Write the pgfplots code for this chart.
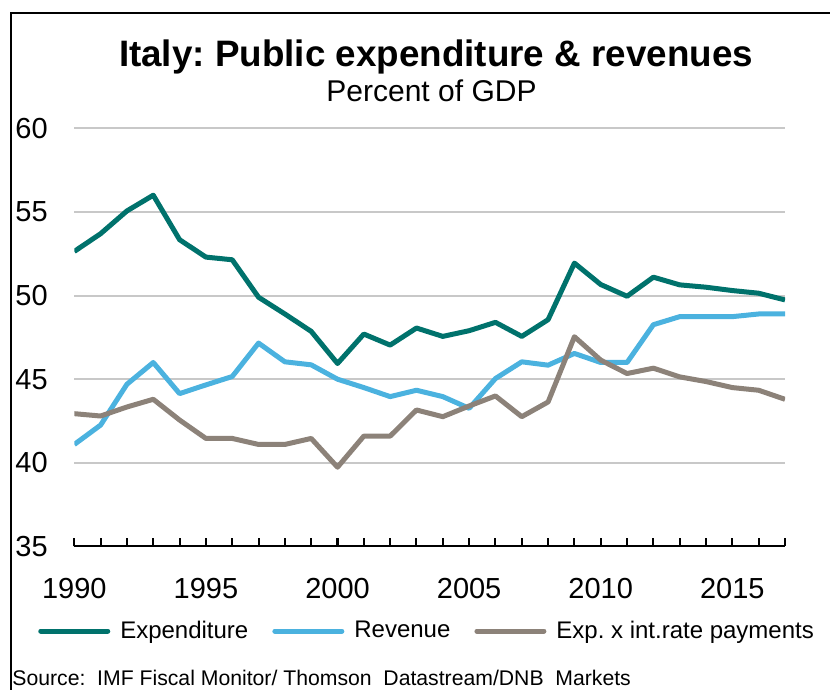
\documentclass[border=0pt]{standalone}
\usepackage{fontspec}
\setmainfont{Liberation Sans}
\usepackage{pgfplots}
\pgfplotsset{compat=1.18}
\definecolor{expcol}{HTML}{00726C}
\definecolor{revcol}{HTML}{4BB2DF}
\definecolor{intcol}{HTML}{8C8279}
\definecolor{gridcol}{HTML}{C8C8C8}
\frenchspacing

\begin{document}
\begin{tikzpicture}
\useasboundingbox (0,0) rectangle (415pt,345pt);
\begin{axis}[
  at={(37.15pt,71.75pt)}, anchor=south west,
  scale only axis, width=355.35pt, height=209.1pt,
  xmin=1990, xmax=2017, ymin=35, ymax=60,
  axis x line*=bottom, axis y line*=left,
  y axis line style={draw=none},
  x axis line style={-, line width=1pt, black},
  xtick={1990,1995,...,2015},
  minor xtick={1990,...,2017},
  ytick={35,40,...,60},
  tick align=inside,
  major tick length=4pt, minor tick length=4pt,
  xtick style={black, line width=1pt},
  minor tick style={black, line width=1pt},
  ytick style={draw=none},
  ymajorgrids, grid style={gridcol, line width=1pt},
  tick label style={font=\fontsize{14.5}{16}\selectfont,
    /pgf/number format/assume math mode=true,
    /pgf/number format/1000 sep={}},
  yticklabel style={anchor=west, inner sep=0pt, xshift=-29.65pt},
  xticklabel style={anchor=center, yshift=-21pt},
  legend columns=3,
  legend style={at={(-0.0507,-0.2021)}, anchor=west, draw=none, fill=none,
    inner sep=0pt, outer sep=0pt, font=\fontsize{12}{14}\selectfont,
    nodes={inner sep=0pt},
    /tikz/every odd column/.append style={column sep=5pt},
    /tikz/every even column/.append style={column sep=12pt}},
  legend image code/.code={\draw[#1, line cap=round] (1.25pt,0pt) -- (34.75pt,0pt);},
]
% Expenditure
\addplot[expcol, line width=2.5pt, line join=round] coordinates {
(1990,52.64) (1991,53.70) (1992,55.06) (1993,56.00) (1994,53.34) (1995,52.30)
(1996,52.14) (1997,49.90) (1998,48.90) (1999,47.86) (2000,45.94) (2001,47.70)
(2002,47.04) (2003,48.06) (2004,47.56) (2005,47.90) (2006,48.40) (2007,47.56)
(2008,48.56) (2009,51.94) (2010,50.66) (2011,49.96) (2012,51.10) (2013,50.64)
(2014,50.50) (2015,50.30) (2016,50.14) (2017,49.74)};
\addlegendentry{Expenditure}
% Revenue
\addplot[revcol, line width=2.5pt, line join=round] coordinates {
(1990,41.10) (1991,42.26) (1992,44.70) (1993,46.00) (1994,44.14) (1995,44.66)
(1996,45.16) (1997,47.16) (1998,46.04) (1999,45.86) (2000,45.00) (2001,44.50)
(2002,43.96) (2003,44.34) (2004,43.96) (2005,43.26) (2006,45.04) (2007,46.04)
(2008,45.84) (2009,46.54) (2010,46.00) (2011,46.00) (2012,48.26) (2013,48.74)
(2014,48.74) (2015,48.74) (2016,48.90) (2017,48.90)};
\addlegendentry{Revenue}
% Expenditure excluding interest payments
\addplot[intcol, line width=2.5pt, line join=round] coordinates {
(1990,42.94) (1991,42.80) (1992,43.34) (1993,43.80) (1994,42.56) (1995,41.46)
(1996,41.46) (1997,41.10) (1998,41.10) (1999,41.46) (2000,39.74) (2001,41.60)
(2002,41.60) (2003,43.16) (2004,42.76) (2005,43.40) (2006,44.00) (2007,42.76)
(2008,43.64) (2009,47.54) (2010,46.14) (2011,45.34) (2012,45.66) (2013,45.14)
(2014,44.86) (2015,44.50) (2016,44.34) (2017,43.80)};
\addlegendentry{Exp. x int.rate payments}
\end{axis}
\draw[line width=1pt] (5.5pt,0pt) -- (5.5pt,338.65pt) -- (416pt,338.65pt);
\node[anchor=base, inner sep=0pt, font=\fontsize{18.4}{20}\selectfont\bfseries]
  at (218pt,311.7pt) {Italy: Public expenditure \& revenues};
\node[anchor=base, inner sep=0pt, font=\fontsize{15}{17}\selectfont]
  at (215.75pt,294pt) {Percent of GDP};
\node[anchor=base west, inner sep=0pt, font=\fontsize{10.6}{12}\selectfont]
  at (6pt,2pt) {Source:\ \ IMF Fiscal Monitor/ Thomson\ \ Datastream/DNB\ \ Markets};
\end{tikzpicture}
\end{document}
